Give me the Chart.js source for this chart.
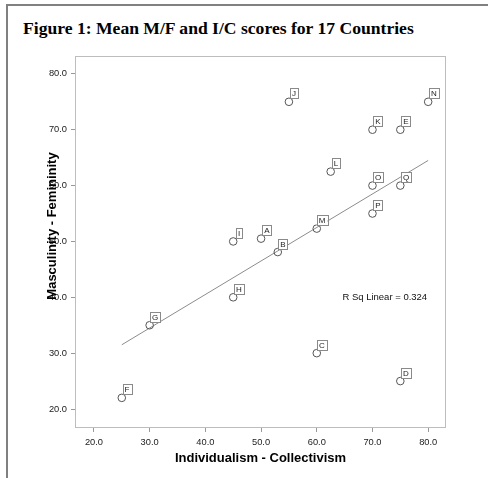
<!DOCTYPE html>
<html>
<head>
<meta charset="utf-8">
<script src="https://cdn.jsdelivr.net/npm/chart.js@4"></script>
<style>
  html, body { margin: 0; padding: 0; background: #fff; }
  #wrap { position: relative; width: 488px; height: 478px; overflow: hidden; }
  #frame { position: absolute; left: 6px; top: 4px; width: 500px; height: 500px;
           border-left: 2px solid #808080; border-top: 2px solid #808080; }
  #title { position: absolute; left: 23px; top: 18px; line-height: 20px; white-space: nowrap;
           font: bold 17.6px "Liberation Serif", "Times New Roman", serif; color: #000; }
  canvas { position: absolute; left: 0; top: 0; }
</style>
</head>
<body>
<div id="wrap">
  <div id="frame"></div>
  <div id="title">Figure 1: Mean M/F and I/C scores for 17 Countries</div>
  <canvas id="chart" width="488" height="478"></canvas>
</div>
<script>
// country codes and their scores
const countries = ['A','B','C','D','E','F','G','H','I','J','K','L','M','N','O','P','Q'];
const icScores  = [50, 53, 60, 75, 75, 25, 30, 45, 45, 55, 70, 62.5, 60, 80, 70, 70, 75];
const mfScores  = [50.5, 48.1, 30, 25, 70, 22, 35, 40, 50, 75, 70, 62.5, 52.3, 75, 60, 55, 60];

// linear fit line ends
const fitX = [25, 80];
const fitY = [31.5, 64.5];
const rSquared = 0.324;

const xTicks = [20, 30, 40, 50, 60, 70, 80];
const yTicks = [20, 30, 40, 50, 60, 70, 80];

const tickFont = { family: '"Liberation Sans", Arial, sans-serif', size: 9.3 };

// boxes with country letters, frame, y title and R sq text
const extras = {
    id: 'extras',
    afterDraw(chart) {
        const ctx = chart.ctx;
        const a = chart.chartArea;
        const xs = chart.scales.x, ys = chart.scales.y;
        ctx.save();
        ctx.strokeStyle = '#bdbdbd';
        ctx.lineWidth = 1;
        ctx.strokeRect(a.left + 0.5, a.top + 0.5, a.right - a.left - 1, a.bottom - a.top - 1);

        ctx.font = '8px "Liberation Sans", Arial, sans-serif';
        ctx.textAlign = 'center';
        ctx.textBaseline = 'middle';
        countries.forEach((c, i) => {
            const px = xs.getPixelForValue(icScores[i]);
            const py = ys.getPixelForValue(mfScores[i]);
            const w = ctx.measureText(c).width + 4;
            const h = 10;
            const cx = Math.round(px + 5.5), cy = Math.round(py - 8.5);
            ctx.fillStyle = '#fff';
            ctx.fillRect(cx - w / 2, cy - h / 2, w, h);
            ctx.strokeStyle = '#8a8a8a';
            ctx.strokeRect(Math.round(cx - w / 2) + 0.5, cy - h / 2 + 0.5, Math.round(w), h);
            ctx.fillStyle = '#222';
            ctx.fillText(c, cx, cy + 0.5);
        });

        ctx.font = '9.5px "Liberation Sans", Arial, sans-serif';
        ctx.textAlign = 'left';
        ctx.fillStyle = '#111';
        ctx.fillText('R Sq Linear = ' + rSquared.toFixed(3), xs.getPixelForValue(64.6), ys.getPixelForValue(40));

        ctx.translate(52, 226);
        ctx.rotate(-Math.PI / 2);
        ctx.font = 'bold 13px "Liberation Sans", Arial, sans-serif';
        ctx.textAlign = 'center';
        ctx.fillStyle = '#000';
        ctx.fillText('Masculinity - Femininity', 0, 0);
        ctx.restore();
    }
};

new Chart(document.getElementById('chart'), {
    type: 'scatter',
    data: {
        datasets: [{
            label: 'Countries',
            data: countries.map((c, i) => ({ x: icScores[i], y: mfScores[i] })),
            pointStyle: 'circle',
            pointRadius: 3.8,
            pointBorderWidth: 1,
            pointBorderColor: '#555',
            pointBackgroundColor: 'rgba(255,255,255,0)',
            order: 1
        }, {
            type: 'line',
            label: 'Linear fit',
            data: fitX.map((x, i) => ({ x: x, y: fitY[i] })),
            borderColor: '#8c8c8c',
            borderWidth: 1,
            pointRadius: 0,
            fill: false,
            order: 2
        }]
    },
    plugins: [extras],
    options: {
        responsive: false,
        animation: false,
        events: [],
        layout: { padding: { left: 0, top: 56, right: 42, bottom: 0 } },
        plugins: { legend: { display: false }, tooltip: { enabled: false } },
        scales: {
            x: {
                type: 'linear',
                min: 16.6, max: 83.2,
                afterFit: s => { s.height = 50; },
                afterBuildTicks: s => { s.ticks = xTicks.map(v => ({ value: v })); },
                grid: { drawOnChartArea: false, drawTicks: true, tickLength: 4, color: '#999' },
                border: { display: false },
                ticks: { font: tickFont, color: '#222', padding: 5, maxRotation: 0,
                         callback: v => v.toFixed(1) },
                title: { display: true, text: 'Individualism - Collectivism', color: '#000',
                         font: { family: '"Liberation Sans", Arial, sans-serif', size: 13, weight: 'bold' },
                         padding: { top: 0, bottom: 12 } }
            },
            y: {
                type: 'linear',
                min: 16.6, max: 83.2,
                afterFit: s => { s.width = 75; },
                afterBuildTicks: s => { s.ticks = yTicks.map(v => ({ value: v })); },
                grid: { drawOnChartArea: false, drawTicks: true, tickLength: 4, color: '#999' },
                border: { display: false },
                ticks: { font: tickFont, color: '#222', padding: 4,
                         callback: v => v.toFixed(1) }
            }
        }
    }
});
</script>
</body>
</html>
